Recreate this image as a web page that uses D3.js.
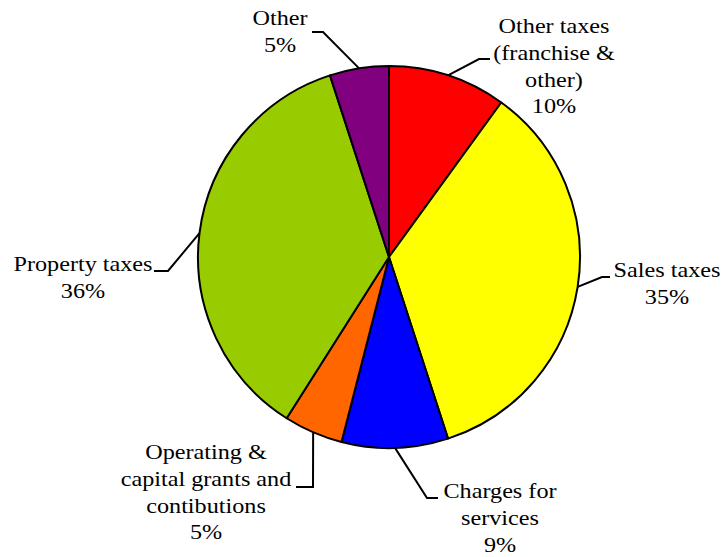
<!DOCTYPE html>
<html>
<head>
<meta charset="utf-8">
<script src="https://cdn.jsdelivr.net/npm/d3@7"></script>
<style>
  html, body { margin: 0; padding: 0; background: #ffffff; }
  svg { display: block; }
  text { font-family: "Liberation Serif", "Times New Roman", serif; font-size: 22px; fill: #000; }
</style>
</head>
<body>
<svg id="chart" width="725" height="557"></svg>
<script>
// Revenue sources, clockwise from 12 o'clock
const categories = [
  "Other taxes\n(franchise &\nother)",
  "Sales taxes",
  "Charges for\nservices",
  "Operating &\ncapital grants and\ncontibutions",
  "Property taxes",
  "Other"
];
const values = [10, 35, 9, 5, 36, 5];
const percentLabels = ["10%", "35%", "9%", "5%", "36%", "5%"];
const colors = ["#FF0000", "#FFFF00", "#0000FF", "#FF6600", "#99CC00", "#800080"];

// Label placement: text centre x, first baseline y, leader elbow and leader end
const labelLayout = [
  { x: 554, y: 33,  elbow: [479, 59],  end: [490, 59] },
  { x: 667, y: 277, elbow: [602, 277], end: [610, 277] },
  { x: 500, y: 498, elbow: [427, 498], end: [438, 498] },
  { x: 206, y: 459, elbow: [313, 487], end: [296, 487] },
  { x: 83,  y: 271, elbow: [168, 271], end: [154, 271] },
  { x: 280, y: 25,  elbow: [323, 32],  end: [312, 32] }
];

const cx = 389, cy = 257, r = 191;
const lineStep = 26.8;

const svg = d3.select("#chart");
const data = values.map((v, i) => ({ name: categories[i], value: v, pct: percentLabels[i], color: colors[i], layout: labelLayout[i] }));

const pie = d3.pie().value(d => d.value).sort(null);
const arc = d3.arc().innerRadius(0).outerRadius(r);
const arcs = pie(data);

const g = svg.append("g").attr("transform", `translate(${cx},${cy})`);
g.selectAll("path.slice")
  .data(arcs)
  .join("path")
  .attr("class", "slice")
  .attr("d", arc)
  .attr("fill", d => d.data.color)
  .attr("stroke", "#000")
  .attr("stroke-width", 2)
  .attr("stroke-linejoin", "round");

// Leader lines from the middle of each slice's rim to its label
svg.selectAll("polyline.leader")
  .data(arcs)
  .join("polyline")
  .attr("class", "leader")
  .attr("fill", "none")
  .attr("stroke", "#000")
  .attr("stroke-width", 2)
  .attr("points", d => {
    const a = (d.startAngle + d.endAngle) / 2;
    const sx = cx + r * Math.sin(a), sy = cy - r * Math.cos(a);
    const L = d.data.layout;
    return [[sx, sy], L.elbow, L.end].map(p => p.join(",")).join(" ");
  });

// Category name lines followed by the percentage
const labels = svg.selectAll("g.label")
  .data(arcs)
  .join("g")
  .attr("class", "label");

labels.each(function(d) {
  const lines = d.data.name.split("\n").concat([d.data.pct]);
  const L = d.data.layout;
  d3.select(this).selectAll("text")
    .data(lines)
    .join("text")
    .attr("text-anchor", "middle")
    .attr("transform", (t, i) => `translate(${L.x},${L.y + i * lineStep}) scale(1.1,1)`)
    .text(t => t);
});
</script>
</body>
</html>
